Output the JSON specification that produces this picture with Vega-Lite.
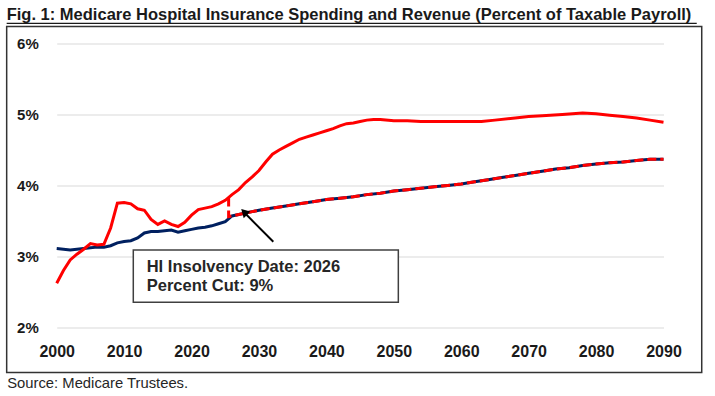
{
  "$schema": "https://vega.github.io/schema/vega-lite/v6.json",
  "autosize": {"type": "none"},
  "width": 606.8,
  "height": 283.8,
  "padding": {"left": 56.7, "top": 43.5, "right": 51.5, "bottom": 68.7},
  "background": "white",
  "config": {
    "view": {"stroke": null},
    "font": "Liberation Sans",
    "axis": {"labelFont": "Liberation Sans", "titleFont": "Liberation Sans"}
  },
  "title": {
    "text": "Fig. 1: Medicare Hospital Insurance Spending and Revenue (Percent of Taxable Payroll)",
    "font": "Liberation Sans",
    "fontSize": 16.5,
    "fontWeight": "bold",
    "color": "#1a1a1a",
    "anchor": "start",
    "frame": "group",
    "dx": -50,
    "dy": 17,
    "baseline": "alphabetic",
    "offset": 3
  },
  "datasets": {
    "one": [{"k": 1}],
    "revenue": [
      {"year": 2000, "value": 3.11}, {"year": 2001, "value": 3.10}, {"year": 2002, "value": 3.09},
      {"year": 2003, "value": 3.10}, {"year": 2004, "value": 3.11}, {"year": 2005, "value": 3.12},
      {"year": 2006, "value": 3.13}, {"year": 2007, "value": 3.13}, {"year": 2008, "value": 3.15},
      {"year": 2009, "value": 3.19}, {"year": 2010, "value": 3.21}, {"year": 2011, "value": 3.22},
      {"year": 2012, "value": 3.26}, {"year": 2013, "value": 3.33}, {"year": 2014, "value": 3.35},
      {"year": 2015, "value": 3.35}, {"year": 2016, "value": 3.36}, {"year": 2017, "value": 3.37},
      {"year": 2018, "value": 3.34}, {"year": 2019, "value": 3.36}, {"year": 2020, "value": 3.38},
      {"year": 2021, "value": 3.40}, {"year": 2022, "value": 3.41}, {"year": 2023, "value": 3.43},
      {"year": 2024, "value": 3.46}, {"year": 2025, "value": 3.49}, {"year": 2026, "value": 3.57},
      {"year": 2027, "value": 3.59}, {"year": 2028, "value": 3.61}, {"year": 2029, "value": 3.63},
      {"year": 2030, "value": 3.65}, {"year": 2032, "value": 3.68}, {"year": 2034, "value": 3.71},
      {"year": 2036, "value": 3.74}, {"year": 2038, "value": 3.77}, {"year": 2040, "value": 3.80},
      {"year": 2042, "value": 3.82}, {"year": 2044, "value": 3.84}, {"year": 2046, "value": 3.87},
      {"year": 2048, "value": 3.89}, {"year": 2050, "value": 3.92}, {"year": 2052, "value": 3.94},
      {"year": 2054, "value": 3.96}, {"year": 2056, "value": 3.98}, {"year": 2058, "value": 4.00},
      {"year": 2060, "value": 4.02}, {"year": 2062, "value": 4.05}, {"year": 2064, "value": 4.08},
      {"year": 2066, "value": 4.11}, {"year": 2068, "value": 4.14}, {"year": 2070, "value": 4.17},
      {"year": 2072, "value": 4.20}, {"year": 2074, "value": 4.23}, {"year": 2076, "value": 4.25},
      {"year": 2078, "value": 4.28}, {"year": 2080, "value": 4.30}, {"year": 2082, "value": 4.32},
      {"year": 2084, "value": 4.33}, {"year": 2086, "value": 4.35}, {"year": 2088, "value": 4.37},
      {"year": 2090, "value": 4.37}
    ],
    "spending": [
      {"year": 2000, "value": 2.62}, {"year": 2001, "value": 2.80}, {"year": 2002, "value": 2.95},
      {"year": 2003, "value": 3.03}, {"year": 2004, "value": 3.10}, {"year": 2005, "value": 3.18},
      {"year": 2006, "value": 3.16}, {"year": 2007, "value": 3.17}, {"year": 2008, "value": 3.40},
      {"year": 2009, "value": 3.75}, {"year": 2010, "value": 3.76}, {"year": 2011, "value": 3.74},
      {"year": 2012, "value": 3.67}, {"year": 2013, "value": 3.65}, {"year": 2014, "value": 3.52},
      {"year": 2015, "value": 3.45}, {"year": 2016, "value": 3.50}, {"year": 2017, "value": 3.45},
      {"year": 2018, "value": 3.42}, {"year": 2019, "value": 3.48}, {"year": 2020, "value": 3.58},
      {"year": 2021, "value": 3.66}, {"year": 2022, "value": 3.68}, {"year": 2023, "value": 3.70},
      {"year": 2024, "value": 3.74}, {"year": 2025, "value": 3.79}, {"year": 2026, "value": 3.87},
      {"year": 2027, "value": 3.94}, {"year": 2028, "value": 4.04}, {"year": 2029, "value": 4.12},
      {"year": 2030, "value": 4.21}, {"year": 2031, "value": 4.33}, {"year": 2032, "value": 4.44},
      {"year": 2033, "value": 4.50}, {"year": 2034, "value": 4.55}, {"year": 2035, "value": 4.60},
      {"year": 2036, "value": 4.65}, {"year": 2037, "value": 4.68}, {"year": 2038, "value": 4.71},
      {"year": 2039, "value": 4.74}, {"year": 2040, "value": 4.77}, {"year": 2041, "value": 4.80},
      {"year": 2042, "value": 4.84}, {"year": 2043, "value": 4.87}, {"year": 2044, "value": 4.88},
      {"year": 2045, "value": 4.90}, {"year": 2046, "value": 4.92}, {"year": 2047, "value": 4.93},
      {"year": 2048, "value": 4.93}, {"year": 2050, "value": 4.91}, {"year": 2052, "value": 4.91},
      {"year": 2054, "value": 4.90}, {"year": 2056, "value": 4.90}, {"year": 2060, "value": 4.90},
      {"year": 2063, "value": 4.90}, {"year": 2065, "value": 4.92}, {"year": 2068, "value": 4.95},
      {"year": 2070, "value": 4.97}, {"year": 2072, "value": 4.98}, {"year": 2075, "value": 5.00},
      {"year": 2078, "value": 5.02}, {"year": 2080, "value": 5.01}, {"year": 2082, "value": 4.99},
      {"year": 2084, "value": 4.97}, {"year": 2086, "value": 4.95}, {"year": 2088, "value": 4.92},
      {"year": 2090, "value": 4.89}
    ],
    "cut": [
      {"year": 2025.5, "value": 3.83, "ord": 0}, {"year": 2025.5, "value": 3.56, "ord": 1},
      {"year": 2026, "value": 3.57, "ord": 2},
      {"year": 2027, "value": 3.59, "ord": 3}, {"year": 2028, "value": 3.61, "ord": 4}, {"year": 2029, "value": 3.63, "ord": 5},
      {"year": 2030, "value": 3.65, "ord": 6}, {"year": 2032, "value": 3.68, "ord": 7}, {"year": 2034, "value": 3.71, "ord": 8},
      {"year": 2036, "value": 3.74, "ord": 9}, {"year": 2038, "value": 3.77, "ord": 10}, {"year": 2040, "value": 3.80, "ord": 11},
      {"year": 2042, "value": 3.82, "ord": 12}, {"year": 2044, "value": 3.84, "ord": 13}, {"year": 2046, "value": 3.87, "ord": 14},
      {"year": 2048, "value": 3.89, "ord": 15}, {"year": 2050, "value": 3.92, "ord": 16}, {"year": 2052, "value": 3.94, "ord": 17},
      {"year": 2054, "value": 3.96, "ord": 18}, {"year": 2056, "value": 3.98, "ord": 19}, {"year": 2058, "value": 4.00, "ord": 20},
      {"year": 2060, "value": 4.02, "ord": 21}, {"year": 2062, "value": 4.05, "ord": 22}, {"year": 2064, "value": 4.08, "ord": 23},
      {"year": 2066, "value": 4.11, "ord": 24}, {"year": 2068, "value": 4.14, "ord": 25}, {"year": 2070, "value": 4.17, "ord": 26},
      {"year": 2072, "value": 4.20, "ord": 27}, {"year": 2074, "value": 4.23, "ord": 28}, {"year": 2076, "value": 4.25, "ord": 29},
      {"year": 2078, "value": 4.28, "ord": 30}, {"year": 2080, "value": 4.30, "ord": 31}, {"year": 2082, "value": 4.32, "ord": 32},
      {"year": 2084, "value": 4.33, "ord": 33}, {"year": 2086, "value": 4.35, "ord": 34}, {"year": 2088, "value": 4.37, "ord": 35},
      {"year": 2090, "value": 4.37, "ord": 36}
    ],
    "note": [
      {"text": "HI Insolvency Date: 2026", "year": 2013.35, "value": 2.775},
      {"text": "Percent Cut: 9%", "year": 2013.35, "value": 2.516}
    ]
  },
  "layer": [
    {
      "data": {"name": "revenue"},
      "mark": {"type": "line", "color": "#002060", "strokeWidth": 3},
      "encoding": {
        "x": {
          "field": "year", "type": "quantitative",
          "scale": {"domain": [2000, 2090], "nice": false, "zero": false},
          "axis": {
            "values": [2000, 2010, 2020, 2030, 2040, 2050, 2060, 2070, 2080, 2090],
            "format": "d", "grid": false, "ticks": false, "domain": false,
            "labelFontSize": 16, "labelFontWeight": "bold", "labelColor": "#1a1a1a",
            "labelPadding": 16, "labelFlush": false,
            "title": "Source: Medicare Trustees.",
            "titleFontSize": 14.8, "titleFontWeight": "normal", "titleColor": "#262626",
            "titleAnchor": "start", "titleAlign": "left", "titleBaseline": "alphabetic",
            "titleX": -50, "titleY": 60
          }
        },
        "y": {
          "field": "value", "type": "quantitative",
          "scale": {"domain": [2, 6], "nice": false, "zero": false},
          "axis": {
            "values": [2, 3, 4, 5, 6],
            "labelExpr": "datum.value + '%'",
            "grid": true, "gridColor": "#d9d9d9", "gridWidth": 1,
            "ticks": false, "domain": false,
            "labelFontSize": 15, "labelFontWeight": "bold", "labelColor": "#1a1a1a",
            "labelPadding": 18.4, "labelBaseline": "middle",
            "title": null
          }
        }
      }
    },
    {
      "data": {"name": "spending"},
      "mark": {"type": "line", "color": "#ff0000", "strokeWidth": 3},
      "encoding": {
        "x": {"field": "year", "type": "quantitative"},
        "y": {"field": "value", "type": "quantitative"}
      }
    },
    {
      "data": {"name": "cut"},
      "mark": {"type": "line", "color": "#ff0000", "strokeWidth": 3, "strokeDash": [9, 4]},
      "encoding": {
        "x": {"field": "year", "type": "quantitative"},
        "y": {"field": "value", "type": "quantitative"},
        "order": {"field": "ord", "type": "quantitative"}
      }
    },
    {
      "data": {"name": "one"},
      "mark": {"type": "rule", "color": "#000000", "strokeWidth": 2},
      "encoding": {
        "x": {"datum": 2032.13},
        "y": {"datum": 3.206},
        "x2": {"datum": 2027.9},
        "y2": {"datum": 3.61}
      }
    },
    {
      "data": {"name": "one"},
      "mark": {"type": "point", "shape": "triangle-up", "filled": true, "color": "#000000", "size": 90, "angle": 315, "opacity": 1},
      "encoding": {
        "x": {"datum": 2027.8},
        "y": {"datum": 3.625}
      }
    },
    {
      "data": {"name": "one"},
      "mark": {"type": "rect", "fill": "#ffffff", "stroke": "#404040", "strokeWidth": 1.5},
      "encoding": {
        "x": {"datum": 2011.36},
        "x2": {"datum": 2050.67},
        "y": {"datum": 3.089},
        "y2": {"datum": 2.352}
      }
    },
    {
      "data": {"name": "note"},
      "mark": {"type": "text", "align": "left", "baseline": "alphabetic", "fontSize": 16.5, "fontWeight": "bold", "color": "#262626"},
      "encoding": {
        "x": {"field": "year", "type": "quantitative"},
        "y": {"field": "value", "type": "quantitative"},
        "text": {"field": "text"}
      }
    },
    {
      "data": {"name": "one"},
      "mark": {"type": "rect", "fill": null, "fillOpacity": 0, "stroke": "#333333", "strokeWidth": 1.5},
      "encoding": {
        "x": {"datum": 1992.58},
        "x2": {"datum": 2095.67},
        "y": {"datum": 6.24},
        "y2": {"datum": 1.363}
      }
    },
    {
      "data": {"name": "one"},
      "mark": {"type": "rule", "color": "#1a1a1a", "strokeWidth": 1.2},
      "encoding": {
        "x": {"datum": 1992.58},
        "x2": {"datum": 2094.93},
        "y": {"datum": 6.285}
      }
    }
  ]
}
